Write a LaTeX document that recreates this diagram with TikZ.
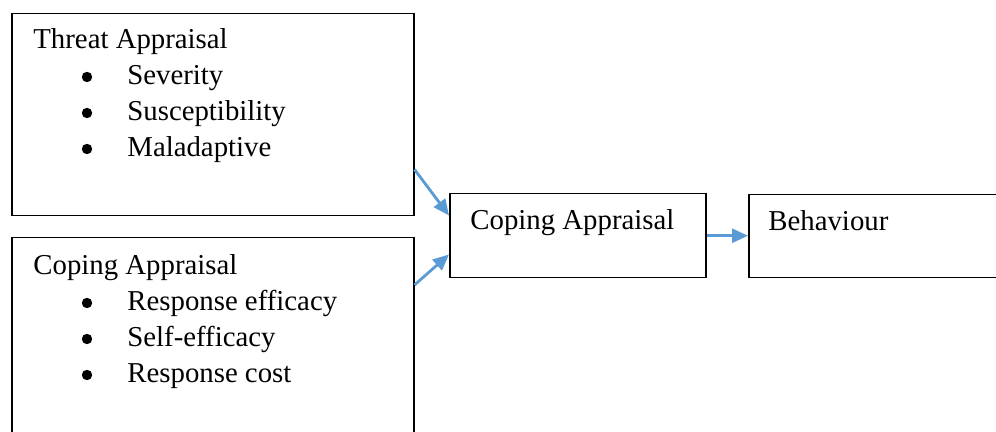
\documentclass[tikz,border=0pt]{standalone}
\usepackage{fontspec}
\setmainfont{Liberation Serif}
\usetikzlibrary{calc}
\usetikzlibrary{arrows.meta}
\usepackage{xcolor}
\definecolor{linkblue}{HTML}{5B9BD5}

\tikzset{
  box/.style={draw=black, line width=.75pt, inner sep=0, anchor=north west},
  lbl/.style={inner sep=0, anchor=base west, font=\fontsize{14.4pt}{17pt}\selectfont},
  dot/.style={circle, fill=black, inner sep=0, minimum size=5.2pt},
  link/.style={linkblue, line width=1.4pt, -{Triangle[length=8pt,width=7pt]}}
}

\begin{document}
\begin{tikzpicture}[x=.5pt, y=-.5pt]
\useasboundingbox (0,0) rectangle (996,432);
\clip (0,0) rectangle (996,432);
% boxes
\node[box, minimum width=201pt, minimum height=101pt] (thr) at (11,13) {};
\node[box, minimum width=201pt, minimum height=110pt] (cpl) at (11,237) {};
\node[box, minimum width=128pt, minimum height=42pt] (cop) at (449,193) {};
\node[box, minimum width=130pt, minimum height=41.5pt] (beh) at (748,194) {};
% texts
\node[lbl] (thrT) at (33,49) {Threat Appraisal};
\foreach \t [count=\i] in {Severity,Susceptibility,Maladaptive} {
  \node[dot] (thrB\i) at (87,41+36*\i) {};
  \node[lbl] (thrI\i) at (127,49+36*\i) {\t};
}
\node[lbl] (cplT) at (33,275) {Coping Appraisal};
\foreach \t [count=\i] in {Response efficacy,Self-efficacy,Response cost} {
  \node[dot] (cplB\i) at (87,267+36*\i) {};
  \node[lbl] (cplI\i) at (127,275+36*\i) {\t};
}
\node[lbl] (copT) at (470,230) {Coping Appraisal};
\node[lbl] (behT) at (768,231) {Behaviour};
% arrows
\draw[link] ($(thr.south east)+(0,-47)$) -- ($(cop.south west)+(0,-63)$);
\draw[link] ($(cpl.north east)+(0,48)$) -- ($(cop.south west)+(0,-24)$);
\draw[link] (cop.east) -- (cop.east -| beh.west);
\end{tikzpicture}
\end{document}
